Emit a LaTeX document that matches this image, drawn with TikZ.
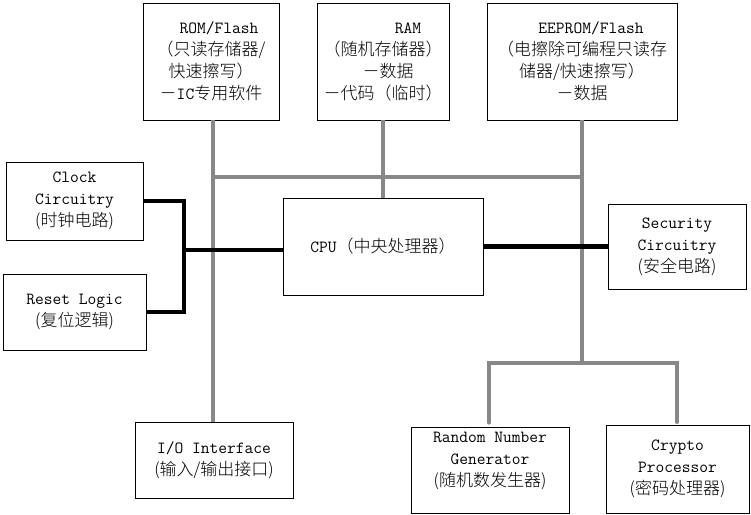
\documentclass[tikz,border=0pt]{standalone}
\usepackage{fontspec}
\newfontfamily\cjk{Noto Sans CJK SC}[UprightFont=* Light]
\newcommand\zh[1]{{\cjk #1}}
\definecolor{busgray}{RGB}{136,136,136}
\begin{document}
\begin{tikzpicture}[x=1pt,y=-1pt,
  box/.style={draw, line width=0.8pt, inner sep=0pt, align=center,
    font=\ttfamily\fontsize{17}{22}\selectfont},
  gbus/.style={draw=busgray, line width=4pt},
  kbus/.style={draw=black, line width=4.5pt},
]
\useasboundingbox (0,0) rectangle (751,514);
% boxes
\node[box, minimum width=136pt, minimum height=117pt] (rom) at (211,61.5)
  {\hspace*{16pt}ROM/Flash\\\zh{（只读存储器/}\\\zh{快速擦写）}\\\zh{－}IC\zh{专用软件}};
\node[box, minimum width=132pt, minimum height=117pt] (ram) at (383,61.5)
  {\hspace*{50pt}RAM\\\zh{（随机存储器）}\\\hspace*{10pt}\zh{－数据}\\\zh{－代码（临时）}};
\node[box, minimum width=190pt, minimum height=117pt] (eep) at (582,61.5)
  {\hspace*{18pt}EEPROM/Flash\\\zh{（电擦除可编程只读存}\\\zh{储器/快速擦写）}\\\zh{－数据}};
\node[box, minimum width=137pt, minimum height=78pt] (clock) at (74.5,201)
  {Clock\\Circuitry\\\zh{(时钟电路)}};
\node[box, minimum width=200pt, minimum height=97pt] (cpu) at (383,246.5)
  {CPU\zh{（中央处理器）}};
\node[box, minimum width=138pt, minimum height=85pt] (sec) at (677,246.5)
  {Security\\Circuitry\\\zh{(安全电路)}};
\node[box, minimum width=143pt, minimum height=76pt] (reset) at (74.5,312)
  {Reset Logic\\\zh{(复位逻辑)}};
\node[box, minimum width=158pt, minimum height=76pt] (io) at (214,460)
  {I/O Interface\\\zh{(输入/输出接口)}};
\node[box, minimum width=158pt, minimum height=86pt] (rng) at (490,470)
  {Random Number\\Generator\\\zh{(随机数发生器)}\\~};
\node[box, minimum width=143pt, minimum height=88pt] (crypto) at (677.5,469)
  {Crypto\\Processor\\\zh{(密码处理器)}};
% bus points
\coordinate (busL) at (212.5,177);
\coordinate (busR) at (582,177);
\coordinate (secbusL) at (489,363);
\coordinate (secbusR) at (677,363);
\coordinate (jx) at (184,250);
% gray buses
\draw[gbus] (rom.south -| busL) -- (io.north -| busL);
\draw[gbus] (busL) -- (busR);
\draw[gbus] (ram.south) -- (ram.south |- cpu.north);
\draw[gbus] (eep.south) -- (eep.south |- secbusL);
\draw[gbus, line cap=round] (secbusL |- rng.north) ++(0,-4) -- (secbusL) -- (secbusR) -- ++(0,59);
% black links
\draw[kbus] (clock.east) -| (jx) |- (reset.east);
\draw[kbus] (jx) -- (jx -| cpu.west);
\draw[kbus] (cpu.east) -- (sec.west);
\end{tikzpicture}
\end{document}
